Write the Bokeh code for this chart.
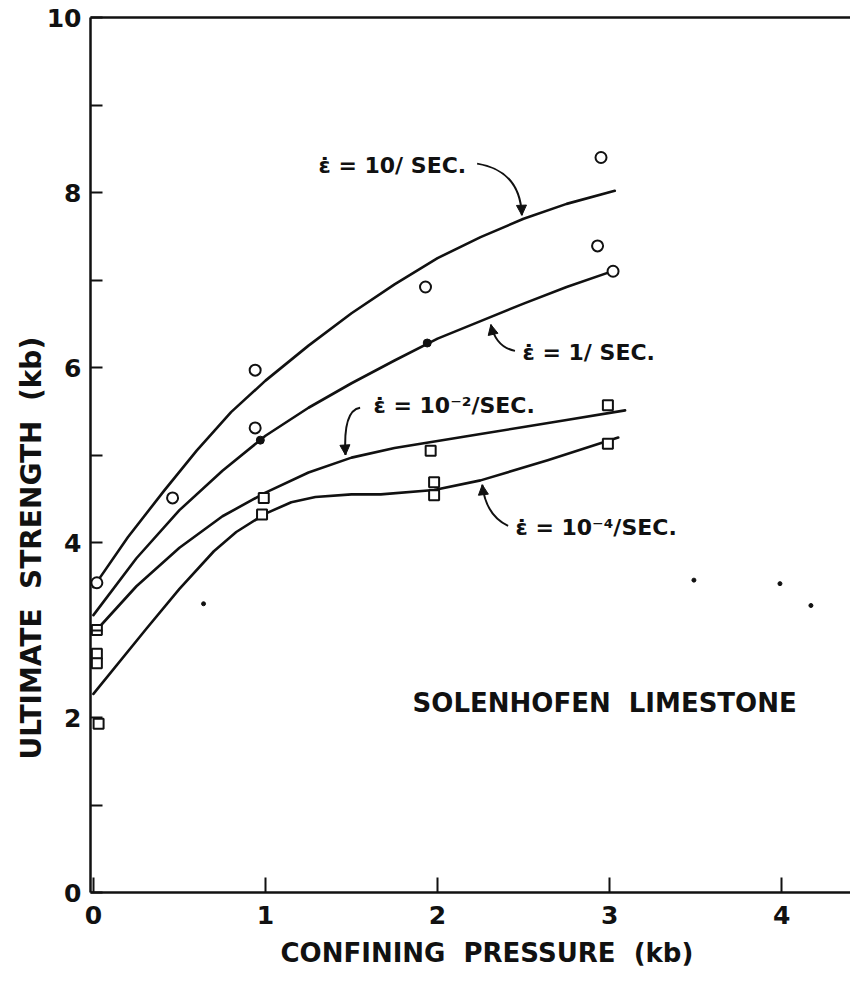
from bokeh.plotting import figure
from bokeh.models import LinearAxis, FixedTicker, Label, Arrow, NormalHead, Range1d, Title
from bokeh.embed import file_html
from bokeh.resources import INLINE

# ---------------- data ----------------
x_ticks = [0, 1, 2, 3, 4]
y_ticks = [0, 2, 4, 6, 8, 10]
y_minor_ticks = [1, 3, 5, 7, 9]

# fitted curves (strain rate labels)
curve_10_x = [0, 0.2, 0.41, 0.6, 0.8, 1.0, 1.25, 1.5, 1.75, 2.0, 2.25, 2.5, 2.75, 3.03]
curve_10_y = [3.49, 4.06, 4.59, 5.05, 5.49, 5.85, 6.25, 6.62, 6.95, 7.25, 7.49, 7.70, 7.87, 8.02]

curve_1_x = [0, 0.25, 0.5, 0.75, 1.0, 1.25, 1.5, 1.75, 2.0, 2.25, 2.5, 2.75, 3.03]
curve_1_y = [3.17, 3.82, 4.37, 4.82, 5.22, 5.54, 5.82, 6.08, 6.33, 6.53, 6.73, 6.92, 7.11]

curve_m2_x = [0, 0.25, 0.5, 0.75, 1.0, 1.25, 1.5, 1.75, 2.0, 2.25, 2.5, 2.75, 3.09]
curve_m2_y = [2.96, 3.50, 3.94, 4.30, 4.57, 4.80, 4.97, 5.08, 5.16, 5.24, 5.32, 5.40, 5.51]

curve_m4_x = [0, 0.31, 0.5, 0.7, 0.83, 1.0, 1.15, 1.29, 1.5, 1.67, 1.98, 2.25, 2.64, 3.05]
curve_m4_y = [2.27, 3.02, 3.47, 3.90, 4.12, 4.33, 4.46, 4.52, 4.55, 4.55, 4.60, 4.71, 4.94, 5.20]

# measured points
circle_x = [0.02, 0.46, 0.94, 0.94, 1.93, 2.95, 2.93, 3.02]
circle_y = [3.54, 4.51, 5.97, 5.31, 6.92, 8.40, 7.39, 7.10]

dot_x = [0.97, 1.94]
dot_y = [5.17, 6.28]

square_x = [0.02, 0.02, 0.02, 0.03, 0.99, 0.98, 1.96, 1.98, 1.98, 2.99, 2.99]
square_y = [3.00, 2.73, 2.62, 1.93, 4.51, 4.32, 5.05, 4.69, 4.54, 5.57, 5.13]

speck_x = [0.64, 3.49, 3.99, 4.17]
speck_y = [3.30, 3.57, 3.53, 3.28]

rate_labels = ["\u03b5\u0307 = 10/ SEC.", "\u03b5\u0307 = 1/ SEC.",
               "\u03b5\u0307 = 10\u207b\u00b2/SEC.", "\u03b5\u0307 = 10\u207b\u2074/SEC."]
rate_label_x = [1.308, 2.494, 1.628, 2.453]
rate_label_y = [8.31, 6.17, 5.57, 4.17]

# leader arrows: start, control, end
arrow_x0 = [2.23, 2.45, 1.55, 2.41]
arrow_y0 = [8.33, 6.19, 5.54, 4.19]
arrow_cx = [2.48, 2.34, 1.45, 2.28]
arrow_cy = [8.25, 6.23, 5.51, 4.31]
arrow_x1 = [2.49, 2.31, 1.465, 2.26]
arrow_y1 = [7.74, 6.49, 5.00, 4.66]

SP = "\u00a0\u00a0"
x_title = "CONFINING" + SP + "PRESSURE" + SP + "(kb)"
y_title = "ULTIMATE" + SP + "STRENGTH" + SP + "(kb)"
note = "SOLENHOFEN" + SP + "LIMESTONE"

FONT = "DejaVu Sans"
INK = "#111111"

# ---------------- figure ----------------
p = figure(width=850, height=982, output_backend="svg", toolbar_location=None,
           x_range=Range1d(-0.017, 4.40), y_range=Range1d(0, 10),
           min_border_left=90, min_border_right=0, min_border_top=17, min_border_bottom=90,
           x_axis_location=None, y_axis_location=None)
p.outline_line_color = None
p.grid.visible = False
p.background_fill_color = "white"
p.border_fill_color = "white"

xaxis = LinearAxis(ticker=FixedTicker(ticks=x_ticks))
xaxis.major_tick_in = 15
xaxis.major_tick_out = 0
xaxis.minor_tick_line_color = None
xaxis.axis_line_width = 2.5
xaxis.axis_line_color = INK
xaxis.major_tick_line_width = 2
xaxis.major_tick_line_color = INK
xaxis.major_label_standoff = 13
xaxis.major_label_text_font = FONT
xaxis.major_label_text_font_style = "bold"
xaxis.major_label_text_font_size = "25px"
xaxis.major_label_text_color = INK
p.add_layout(xaxis, "below")

yaxis = LinearAxis(ticker=FixedTicker(ticks=y_ticks, minor_ticks=y_minor_ticks))
yaxis.major_tick_in = 12
yaxis.major_tick_out = 0
yaxis.minor_tick_in = 12
yaxis.minor_tick_out = 0
yaxis.axis_line_width = 2.5
yaxis.axis_line_color = INK
yaxis.major_tick_line_width = 2
yaxis.minor_tick_line_width = 2
yaxis.major_tick_line_color = INK
yaxis.minor_tick_line_color = INK
yaxis.major_label_standoff = 9
yaxis.major_label_text_font = FONT
yaxis.major_label_text_font_style = "bold"
yaxis.major_label_text_font_size = "25px"
yaxis.major_label_text_color = INK
p.add_layout(yaxis, "left")

topaxis = LinearAxis(ticker=FixedTicker(ticks=[]))
topaxis.major_label_text_font_size = "0px"
topaxis.axis_line_width = 2.5
topaxis.axis_line_color = INK
topaxis.major_tick_line_color = None
topaxis.minor_tick_line_color = None
p.add_layout(topaxis, "above")

# axis titles as side titles
p.add_layout(Title(text=x_title, align="left", offset=190, standoff=18,
                   text_font=FONT, text_font_style="bold", text_font_size="26px",
                   text_color=INK), "below")
p.add_layout(Title(text=y_title, align="left", offset=133, standoff=-9,
                   text_font=FONT, text_font_style="bold", text_font_size="28px",
                   text_color=INK), "left")

# curves
for cx_, cy_ in [(curve_10_x, curve_10_y), (curve_1_x, curve_1_y),
                 (curve_m2_x, curve_m2_y), (curve_m4_x, curve_m4_y)]:
    p.line(cx_, cy_, line_color=INK, line_width=2.6, line_join="round", line_cap="round")

# points
p.scatter(circle_x, circle_y, marker="circle", size=11, fill_color="white",
          line_color=INK, line_width=2)
p.scatter(square_x, square_y, marker="square", size=10, fill_color="white",
          line_color=INK, line_width=2)
p.scatter(dot_x, dot_y, marker="circle", size=8, fill_color=INK, line_color=INK)
p.scatter(speck_x, speck_y, marker="circle", size=4, fill_color=INK, line_color=INK)

# leader arrows
p.quadratic(x0=arrow_x0, y0=arrow_y0, x1=arrow_x1, y1=arrow_y1, cx=arrow_cx, cy=arrow_cy,
            line_color=INK, line_width=2)
for ex, ey, cx, cy in zip(arrow_x1, arrow_y1, arrow_cx, arrow_cy):
    sx = ex - 0.2 * (ex - cx)
    sy = ey - 0.2 * (ey - cy)
    p.add_layout(Arrow(end=NormalHead(size=10, fill_color=INK, line_color=INK),
                       x_start=sx, y_start=sy, x_end=ex, y_end=ey,
                       line_color=INK, line_width=2))

# rate labels
for t, lx, ly in zip(rate_labels, rate_label_x, rate_label_y):
    p.add_layout(Label(x=lx, y=ly, text=t, text_font=FONT, text_font_style="bold",
                       text_font_size="22px", text_color=INK,
                       text_align="left", text_baseline="middle"))

p.add_layout(Label(x=1.855, y=2.17, text=note, text_font=FONT, text_font_style="bold",
                   text_font_size="26px", text_color=INK,
                   text_align="left", text_baseline="middle"))

open("out.html", "w").write(file_html(p, INLINE))
